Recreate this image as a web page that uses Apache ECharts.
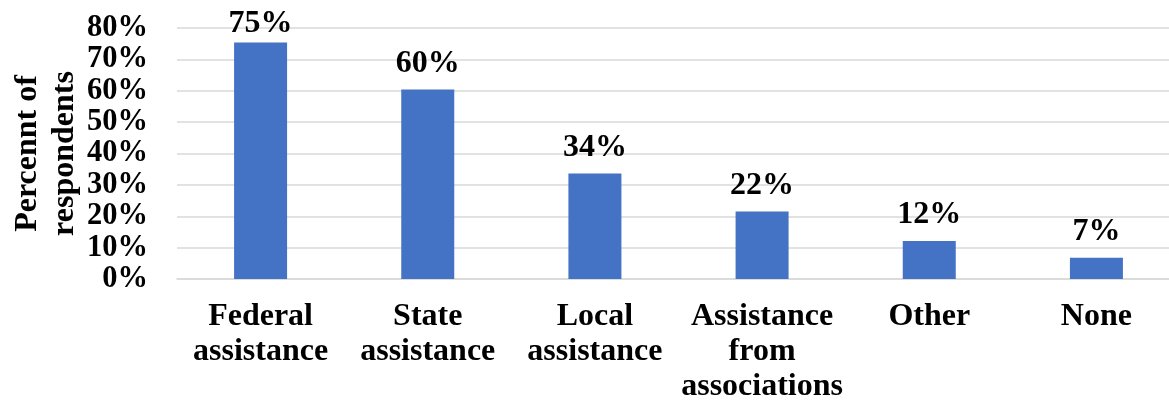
<!DOCTYPE html>
<html>
<head>
<meta charset="utf-8">
<script src="https://cdn.jsdelivr.net/npm/echarts@6/dist/echarts.min.js"></script>
<style>
html,body{margin:0;padding:0;background:#fff;}
#chart{width:1169px;height:404px;}
</style>
</head>
<body>
<div id="chart"></div>
<script>
const categories = ["Federal\nassistance", "State\nassistance", "Local\nassistance", "Assistance\nfrom\nassociations", "Other", "None"];
const values = [75.4, 60.4, 33.6, 21.5, 12.1, 6.8];
const yTicks = [0, 10, 20, 30, 40, 50, 60, 70, 80];
const yAxisName = "Percennt of\nrespondents";

const FONT = '"Liberation Serif", "Times New Roman", serif';
const chart = echarts.init(document.getElementById('chart'));
chart.setOption({
  animation: false,
  grid: { left: 177, top: 28, width: 1003, height: 251, containLabel: false, outerBoundsMode: 'none' },
  xAxis: {
    type: 'category',
    data: categories,
    axisLine: { show: true, lineStyle: { color: '#d9d9d9', width: 1.5 } },
    axisTick: { show: false },
    axisLabel: {
      interval: 0, margin: 20,
      color: '#000', fontFamily: FONT, fontWeight: 'bold', fontSize: 32, lineHeight: 35
    }
  },
  yAxis: {
    type: 'value',
    min: yTicks[0], max: yTicks[yTicks.length - 1], interval: 10,
    name: yAxisName,
    nameLocation: 'middle',
    nameGap: 94,
    nameMoveOverlap: false,
    nameTextStyle: { color: '#000', fontFamily: FONT, fontWeight: 'bold', fontSize: 32, lineHeight: 37 },
    axisLine: { show: false },
    axisTick: { show: false },
    splitLine: { lineStyle: { color: '#d9d9d9', width: 1.5 } },
    axisLabel: {
      margin: 29, showMinLabel: true, showMaxLabel: true,
      color: '#000', fontFamily: FONT, fontWeight: 'bold', fontSize: 30.5,
      formatter: v => v + '%'
    }
  },
  series: [{
    type: 'bar',
    data: values.map((v, i) => i === 0 ? { value: v, label: { distance: 3 } } : v),
    barWidth: 53,
    itemStyle: { color: '#4472C4' },
    label: {
      show: true, position: 'top', distance: 10,
      color: '#000', fontFamily: FONT, fontWeight: 'bold', fontSize: 32,
      formatter: p => Math.round(p.value) + '%'
    }
  }]
});
</script>
</body>
</html>
